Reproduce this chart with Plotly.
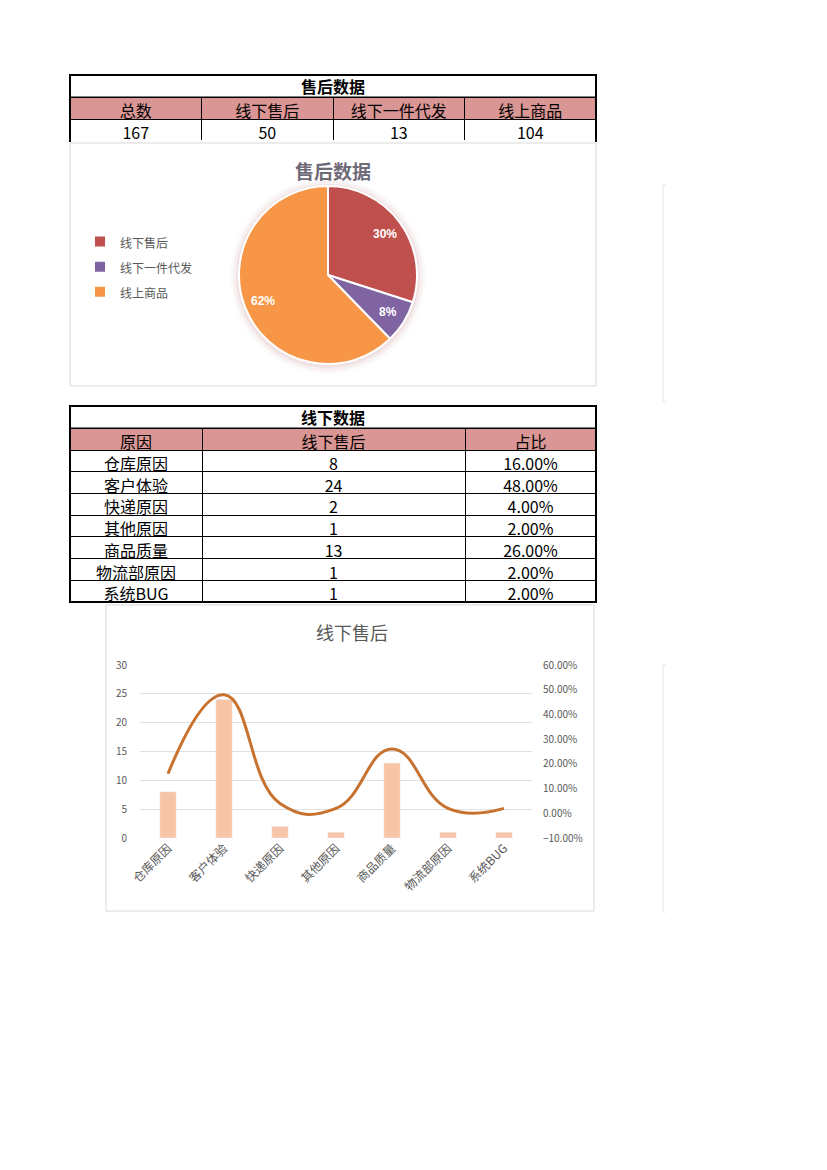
import math
import plotly.graph_objects as go

W, H = 827, 1170
FONT = "Noto Sans CJK SC"

# ---------------- data ----------------
summary_title = "售后数据"
summary_headers = ["总数", "线下售后", "线下一件代发", "线上商品"]
summary_values = [167, 50, 13, 104]

pie_title = "售后数据"
pie_labels = ["线下售后", "线下一件代发", "线上商品"]
pie_values = [50, 13, 104]
pie_colors = ["#C0504D", "#8064A2", "#F79646"]

detail_title = "线下数据"
detail_headers = ["原因", "线下售后", "占比"]
reasons = ["仓库原因", "客户体验", "快递原因", "其他原因", "商品质量", "物流部原因", "系统BUG"]
reason_counts = [8, 24, 2, 1, 13, 1, 1]
reason_share = [0.16, 0.48, 0.04, 0.02, 0.26, 0.02, 0.02]

combo_title = "线下售后"


def px(x):
    return x / W


def py(y):
    return 1 - y / H


fig = go.Figure()
shapes = []
annotations = []

HEADER_FILL = "#DA9694"
TFONT = 16

# ---------------- table 1 ----------------
t1_x0, t1_x1 = 70, 596
fig.add_trace(go.Table(
    domain=dict(x=[px(t1_x0), px(t1_x1)], y=[py(141), py(97)]),
    columnwidth=[1, 1, 1, 1],
    header=dict(values=summary_headers, fill_color=HEADER_FILL, align="center",
                line=dict(color="black", width=1), height=22,
                font=dict(family=FONT, size=TFONT, color="black")),
    cells=dict(values=[[v] for v in summary_values], fill_color="white", align="center",
               line=dict(color="black", width=1), height=22,
               font=dict(family=FONT, size=TFONT, color="black")),
))
shapes.append(dict(type="rect", xref="paper", yref="paper", x0=px(t1_x0), x1=px(t1_x1),
                   y0=py(97), y1=py(75), line=dict(color="black", width=1), fillcolor="white"))
annotations.append(dict(text="<b>%s</b>" % summary_title, x=px((t1_x0 + t1_x1) / 2), y=py(86),
                        xref="paper", yref="paper", showarrow=False, xanchor="center", yanchor="middle",
                        font=dict(family=FONT, size=TFONT, color="black")))
shapes.append(dict(type="path", xref="paper", yref="paper",
                   path=f"M {px(t1_x0)},{py(142)} L {px(t1_x0)},{py(75)} L {px(t1_x1)},{py(75)} L {px(t1_x1)},{py(142)}",
                   line=dict(color="black", width=2)))

# ---------------- pie chart ----------------
shapes.append(dict(type="rect", xref="paper", yref="paper", x0=px(70), x1=px(596),
                   y0=py(386), y1=py(143), line=dict(color="#D9D9D9", width=1), layer="below"))
PCX, PCY, PR = 328, 275, 89
for r, op in [(98, 0.04), (95, 0.07), (92, 0.11)]:
    shapes.append(dict(type="circle", xref="paper", yref="paper", x0=px(PCX - r), x1=px(PCX + r),
                       y0=py(PCY + 1 + r), y1=py(PCY + 1 - r), line=dict(width=0),
                       fillcolor=f"rgba(190,120,120,{op})", layer="below"))
fig.add_trace(go.Pie(
    labels=[f"<span style='font-size:12px'>{l}</span>" for l in pie_labels],
    values=pie_values, sort=False, direction="clockwise", rotation=0,
    marker=dict(colors=pie_colors, line=dict(color="white", width=2)),
    domain=dict(x=[px(PCX - PR), px(PCX + PR)], y=[py(PCY + PR), py(PCY - PR)]),
    textinfo="none", hoverinfo="value+percent", showlegend=True, automargin=False,
))
# percentage labels placed by slice mid-angle (computed from data)
total = sum(pie_values)
cum = 0
for v in pie_values:
    mid = (cum + v / 2) / total * 2 * math.pi
    cum += v
    rr = 0.79 * PR
    annotations.append(dict(text=f"<b>{v / total:.0%}</b>", xref="paper", yref="paper",
                            x=px(PCX + math.sin(mid) * rr), y=py(PCY - math.cos(mid) * rr),
                            xanchor="center", yanchor="middle", showarrow=False,
                            font=dict(family="Liberation Sans", size=12, color="white")))
annotations.append(dict(text="<b>%s</b>" % pie_title, x=px(333), y=py(170), xref="paper", yref="paper",
                        showarrow=False, xanchor="center", yanchor="middle",
                        font=dict(family=FONT, size=19, color="#6E6A78")))

# ---------------- table 2 ----------------
t2_x0, t2_x1 = 70, 596
fig.add_trace(go.Table(
    domain=dict(x=[px(t2_x0), px(t2_x1)], y=[py(602), py(428)]),
    columnwidth=[132, 263, 131],
    header=dict(values=detail_headers, fill_color=HEADER_FILL, align="center",
                line=dict(color="black", width=1), height=22,
                font=dict(family=FONT, size=TFONT, color="black")),
    cells=dict(values=[reasons, reason_counts, [f"{v:.2%}" for v in reason_share]],
               fill_color="white", align="center",
               line=dict(color="black", width=1), height=21.7,
               font=dict(family=FONT, size=TFONT, color="black")),
))
shapes.append(dict(type="rect", xref="paper", yref="paper", x0=px(t2_x0), x1=px(t2_x1),
                   y0=py(428), y1=py(406), line=dict(color="black", width=1), fillcolor="white"))
annotations.append(dict(text="<b>%s</b>" % detail_title, x=px((t2_x0 + t2_x1) / 2), y=py(417),
                        xref="paper", yref="paper", showarrow=False, xanchor="center", yanchor="middle",
                        font=dict(family=FONT, size=TFONT, color="black")))
shapes.append(dict(type="rect", xref="paper", yref="paper", x0=px(t2_x0), x1=px(t2_x1),
                   y0=py(602), y1=py(406), line=dict(color="black", width=2)))

# ---------------- combo chart ----------------
shapes.append(dict(type="rect", xref="paper", yref="paper", x0=px(106), x1=px(594),
                   y0=py(911), y1=py(605), line=dict(color="#D9D9D9", width=1), layer="below"))
annotations.append(dict(text=combo_title, x=px(352), y=py(632), xref="paper", yref="paper",
                        showarrow=False, xanchor="center", yanchor="middle",
                        font=dict(family=FONT, size=18, color="#595959")))
fig.add_trace(go.Bar(x=reasons, y=reason_counts, marker=dict(color="#F8C4A6"), width=0.29,
                     showlegend=False, xaxis="x", yaxis="y", hoverinfo="x+y"))
fig.add_trace(go.Scatter(x=reasons, y=reason_share, mode="lines",
                         line=dict(color="#C8722F", width=3, shape="spline", smoothing=1.3),
                         showlegend=False, xaxis="x", yaxis="y2"))

# partial chart frames at right edge
for (ya, yb) in [(185, 402), (665, 912)]:
    shapes.append(dict(type="path", xref="paper", yref="paper",
                       path=f"M {px(666)},{py(ya)} L {px(663)},{py(ya)} L {px(663)},{py(yb)} L {px(666)},{py(yb)}",
                       line=dict(color="#E6E6E6", width=1)))

tickfont = dict(family=FONT, size=10, color="#595959")
fig.update_layout(
    width=W, height=H, margin=dict(l=0, r=0, t=0, b=0, pad=0, autoexpand=False),
    paper_bgcolor="white", plot_bgcolor="white",
    showlegend=True,
    legend=dict(x=px(80), y=py(224), xanchor="left", yanchor="top", itemwidth=30,
                font=dict(family=FONT, size=17, color="#595959"), bgcolor="rgba(0,0,0,0)",
                itemclick=False, itemdoubleclick=False),
    xaxis=dict(domain=[px(140), px(532)], anchor="y", tickangle=-45, automargin=False,
               tickfont=dict(family=FONT, size=12, color="#595959"),
               showline=False, showgrid=False, ticks="", fixedrange=True),
    yaxis=dict(domain=[py(838), py(665)], range=[0, 30], dtick=5, tickfont=tickfont, automargin=False,
               showgrid=True, gridcolor="#E0E0E0", gridwidth=1, zeroline=False, showline=False,
               ticks="", ticklabelstandoff=12, fixedrange=True),
    yaxis2=dict(overlaying="y", side="right", anchor="x", range=[-0.1, 0.6], dtick=0.1, automargin=False,
                tickformat=".2%", tickfont=tickfont, showgrid=False, zeroline=False,
                ticklabelstandoff=10, fixedrange=True),
    bargap=0.71,
    shapes=shapes, annotations=annotations,
)

fig.write_html("out.html", post_script="document.body.style.margin='0';document.body.style.overflow='hidden';")
